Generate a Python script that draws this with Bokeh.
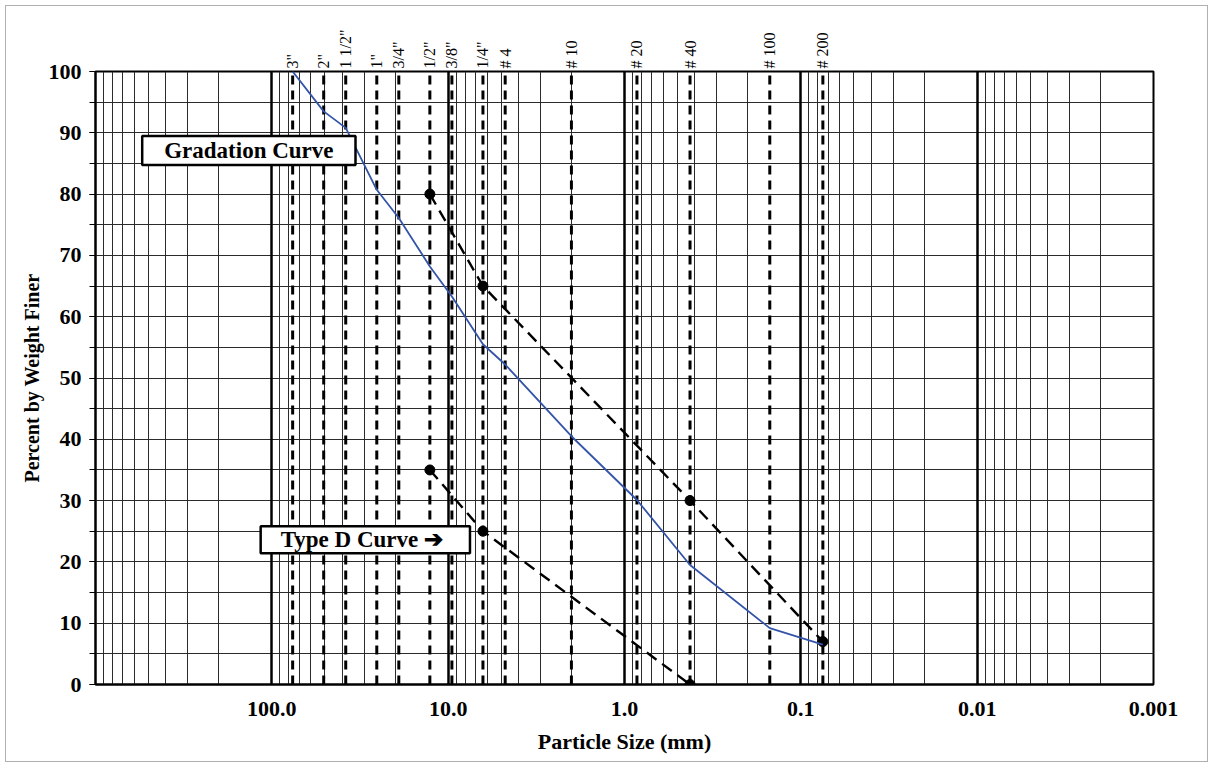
from bokeh.plotting import figure
from bokeh.models import (Range1d, FixedTicker, LogAxis, Grid, Label)
from bokeh.embed import file_html
from bokeh.resources import INLINE

# ---------------- data ----------------
sieve_labels = ['3"', '2"', '1 1/2"', '1"', '3/4"', '1/2"', '3/8"', '1/4"',
                '# 4', '# 10', '# 20', '# 40', '# 100', '# 200']
sieve_sizes_mm = [76.2, 50.8, 38.1, 25.4, 19.05, 12.7, 9.525, 6.35,
                  4.75, 2.0, 0.85, 0.425, 0.15, 0.075]

gradation_size = [76.2, 50.8, 38.1, 25.4, 19.05, 12.7, 9.525, 6.35,
                  4.75, 2.0, 0.85, 0.425, 0.15, 0.075]
gradation_percent = [100, 93.5, 90.8, 80.7, 76.1, 68.2, 63.3, 55.5,
                     52.2, 40.5, 30.1, 19.5, 9.2, 6.5]

typeD_upper_size = [12.7, 6.35, 0.425, 0.075]
typeD_upper_percent = [80, 65, 30, 7]
typeD_lower_size = [12.7, 6.35, 0.425]
typeD_lower_percent = [35, 25, 0]

x_tick_values = [100.0, 10.0, 1.0, 0.1, 0.01, 0.001]
x_tick_labels = ["100.0", "10.0", "1.0", "0.1", "0.01", "0.001"]
y_tick_values = list(range(0, 101, 10))

SERIF = "Liberation Serif"

p = figure(width=1203, height=757, x_axis_type="log",
           x_range=Range1d(1000, 0.001), y_range=Range1d(0, 100),
           output_backend="svg", toolbar_location=None,
           min_border_left=89, min_border_right=56,
           min_border_top=65, min_border_bottom=79)
p.margin = (5, 5, 5, 5)
p.background_fill_color = "white"
p.border_fill_color = "white"
p.outline_line_color = "black"
p.outline_line_width = 2

# grids
minor_x = [m * 10.0 ** e for e in range(-3, 3) for m in range(2, 10)]
p.xgrid[0].ticker = FixedTicker(ticks=minor_x)
p.xgrid[0].grid_line_color = "#2b2b2b"
p.xgrid[0].grid_line_width = 1
p.ygrid[0].ticker = FixedTicker(ticks=list(range(0, 101, 5)))
p.ygrid[0].grid_line_color = "#2b2b2b"
p.ygrid[0].grid_line_width = 1
decade_grid = Grid(dimension=0, ticker=FixedTicker(ticks=[100, 10, 1, 0.1, 0.01]),
                   grid_line_color="black", grid_line_width=2.5)
p.add_layout(decade_grid)

# x axis (bottom)
xa = p.xaxis[0]
xa.ticker = FixedTicker(ticks=x_tick_values)
xa.major_label_overrides = {float(v): t for v, t in zip(x_tick_values, x_tick_labels)}
xa.major_tick_out = 0
xa.major_tick_in = 0
xa.minor_tick_out = 0
xa.minor_tick_in = 0
xa.axis_line_color = "black"
xa.axis_line_width = 2
xa.major_label_standoff = 17
xa.major_label_text_font = SERIF
xa.major_label_text_font_style = "bold"
xa.major_label_text_font_size = "22px"
xa.major_label_text_color = "black"
xa.axis_label = "Particle Size (mm)"
xa.axis_label_text_font = SERIF
xa.axis_label_text_font_style = "bold"
xa.axis_label_text_font_size = "22px"
xa.axis_label_text_color = "black"
xa.axis_label_standoff = 10

# y axis
ya = p.yaxis[0]
ya.ticker = FixedTicker(ticks=y_tick_values, minor_ticks=list(range(0, 101, 5)))
ya.major_tick_out = 6
ya.major_tick_in = 0
ya.minor_tick_out = 6
ya.minor_tick_in = 0
ya.major_tick_line_color = "black"
ya.minor_tick_line_color = "black"
ya.axis_line_color = "black"
ya.axis_line_width = 2
ya.major_label_standoff = 8
ya.major_label_text_font = SERIF
ya.major_label_text_font_style = "bold"
ya.major_label_text_font_size = "22px"
ya.major_label_text_color = "black"
ya.axis_label = "Percent by Weight Finer"
ya.axis_label_text_font = SERIF
ya.axis_label_text_font_style = "bold"
ya.axis_label_text_font_size = "20px"
ya.axis_label_text_color = "black"
ya.axis_label_standoff = 3

# top axis with sieve labels
top = LogAxis(ticker=FixedTicker(ticks=sieve_sizes_mm),
              major_label_overrides={float(v): t for v, t in zip(sieve_sizes_mm, sieve_labels)},
              major_label_orientation="vertical",
              major_label_standoff=3,
              major_label_text_font=SERIF,
              major_label_text_font_size="16px",
              major_label_text_color="black",
              major_tick_out=0, major_tick_in=0,
              minor_tick_out=0, minor_tick_in=0,
              axis_line_color=None)
p.add_layout(top, "above")

# dashed sieve lines
p.segment(x0=sieve_sizes_mm, y0=[0] * len(sieve_sizes_mm),
          x1=sieve_sizes_mm, y1=[100] * len(sieve_sizes_mm),
          line_color="black", line_width=3, line_dash="9 6")

# Type D envelope
p.line(typeD_upper_size, typeD_upper_percent, line_color="black",
       line_width=2.4, line_dash="12 7")
p.line(typeD_lower_size, typeD_lower_percent, line_color="black",
       line_width=2.4, line_dash="12 7")
p.scatter(typeD_upper_size, typeD_upper_percent, size=10, color="black")
p.scatter(typeD_lower_size, typeD_lower_percent, size=10, color="black")

# gradation curve
p.line(gradation_size, gradation_percent, line_color="#3454a8", line_width=1.8)

# text boxes
lbl_style = dict(text_font=SERIF, text_font_style="bold", text_font_size="23px",
                 text_color="black", text_align="center", text_baseline="middle",
                 background_fill_color="white", border_line_color="black",
                 border_line_width=2.5)
p.add_layout(Label(x=135, y=87.1, text="Gradation Curve",
                   padding=dict(left=22, right=22, top=2, bottom=2), **lbl_style))
p.add_layout(Label(x=29.5, y=23.6, text="Type D Curve \u2794",
                   padding=dict(left=20, right=27, top=1, bottom=1), **lbl_style))

p.styles = {"border": "1px solid #b0b0b0"}

open("out.html", "w").write(file_html(p, INLINE))
